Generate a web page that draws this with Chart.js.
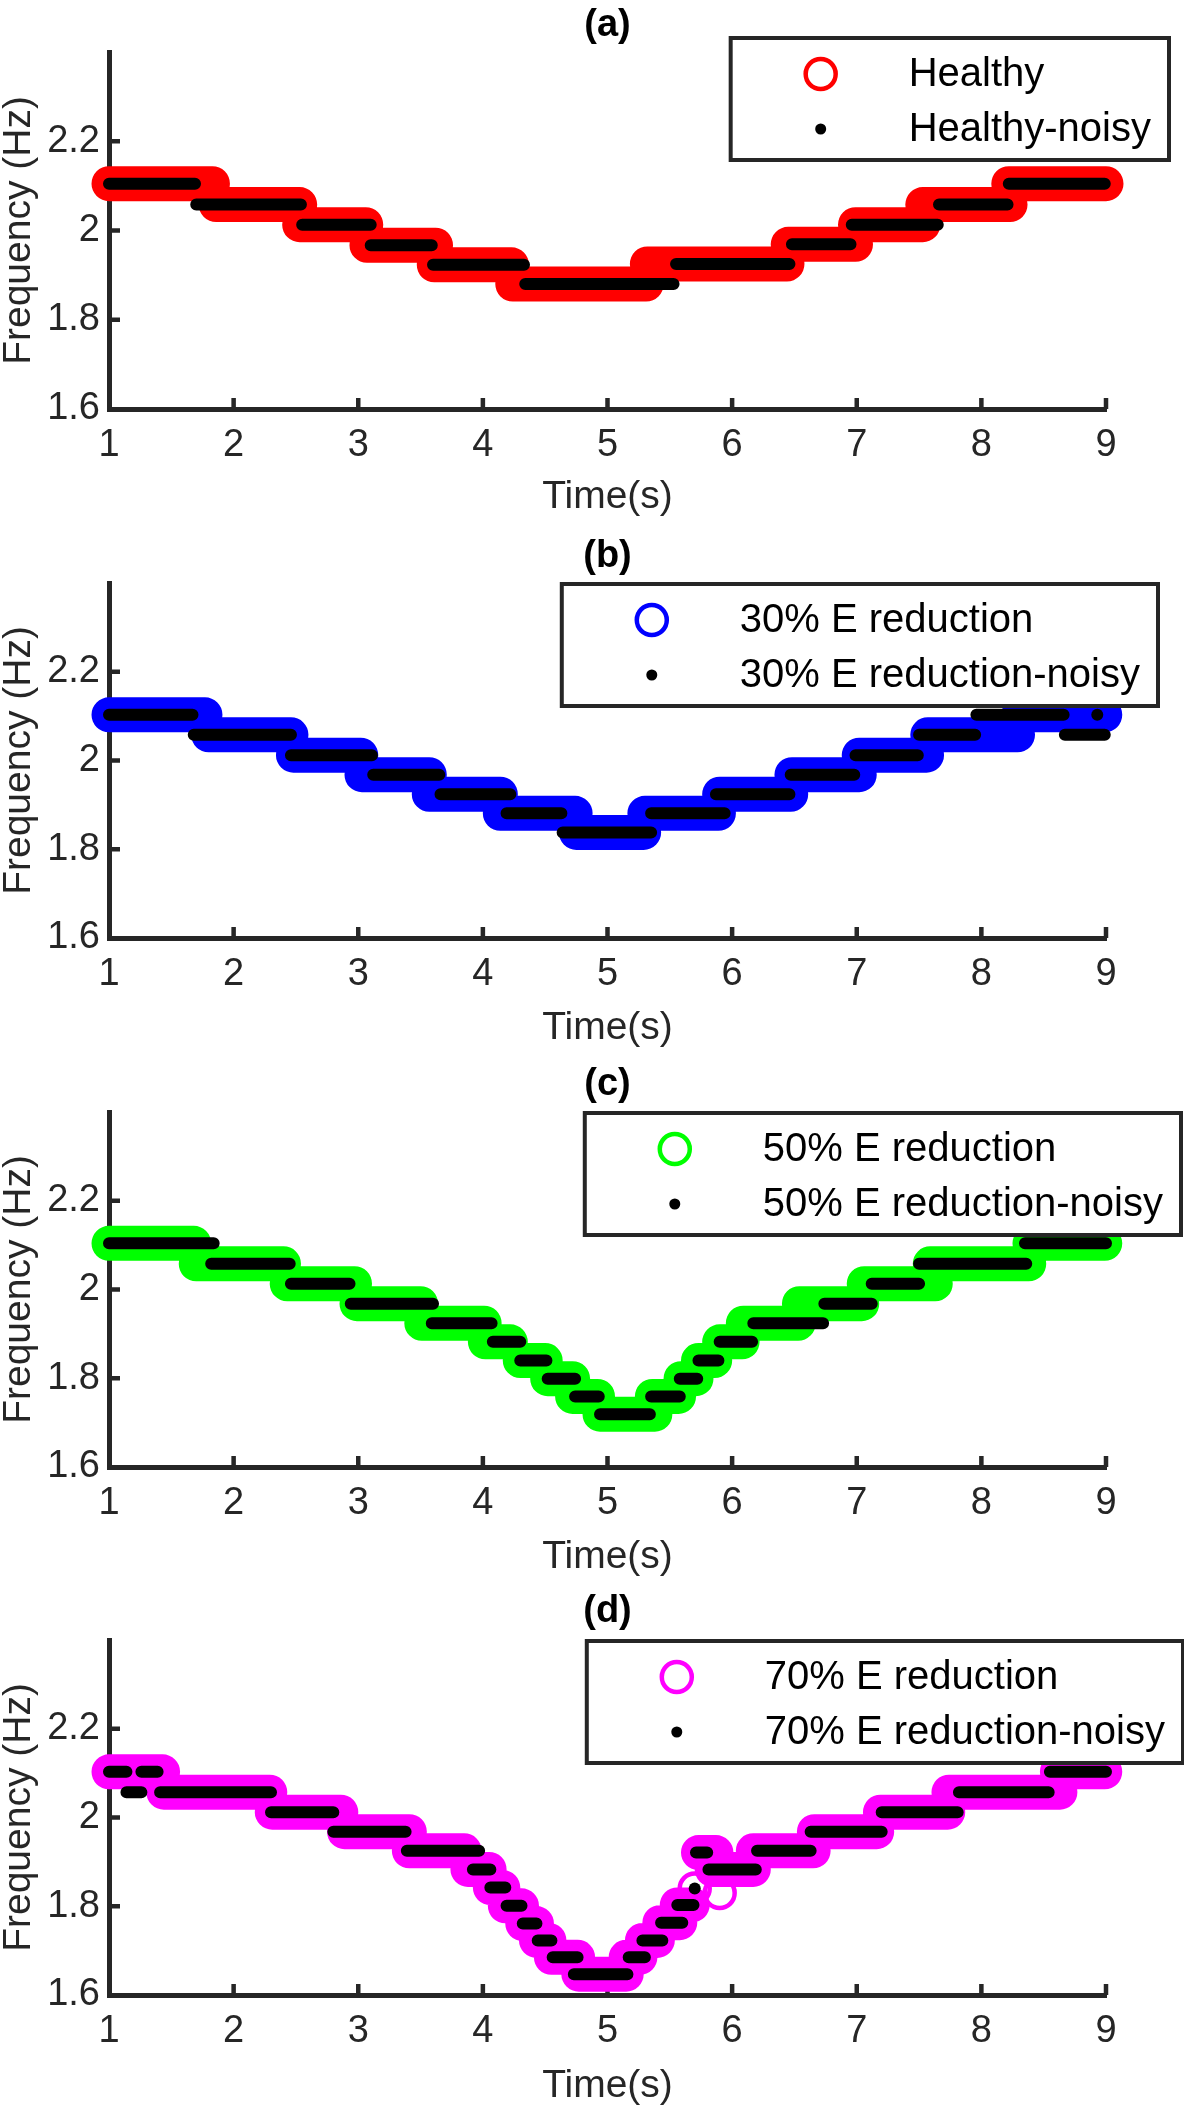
<!DOCTYPE html>
<html>
<head>
<meta charset="utf-8">
<script src="https://cdn.jsdelivr.net/npm/chart.js@4.4.0/dist/chart.umd.min.js"></script>
<style>
  html, body { margin: 0; padding: 0; background: #fff; }
  #wrap { position: relative; width: 1184px; height: 2108px; }
  .panel { position: absolute; left: 0; width: 1184px; height: 527px; }
  canvas { display: block; }
</style>
</head>
<body>
<div id="wrap">
  <div class="panel" style="top:0px"><canvas id="c0" width="1184" height="527"></canvas></div>
  <div class="panel" style="top:527px"><canvas id="c1" width="1184" height="527"></canvas></div>
  <div class="panel" style="top:1054px"><canvas id="c2" width="1184" height="527"></canvas></div>
  <div class="panel" style="top:1581px"><canvas id="c3" width="1184" height="527"></canvas></div>
</div>
<script>
// axis ticks
const timeTicks = [1, 2, 3, 4, 5, 6, 7, 8, 9];
const freqTicks = [1.6, 1.8, 2.0, 2.2];

// flat runs of each series: [start (s), end (s), frequency (Hz)]
const healthy = [
  [1.00, 1.83, 2.105], [1.86, 2.53, 2.058], [2.53, 3.06, 2.013], [3.07, 3.62, 1.967],
  [3.61, 4.23, 1.923], [4.24, 5.31, 1.880], [5.32, 6.44, 1.925], [6.45, 6.99, 1.969],
  [6.99, 7.53, 2.013], [7.53, 8.23, 2.058], [8.22, 9.00, 2.105]
];
const healthyNoisy = [
  [1.00, 1.69, 2.105], [1.70, 2.54, 2.058], [2.55, 3.10, 2.013], [3.10, 3.59, 1.967],
  [3.60, 4.33, 1.923], [4.34, 5.53, 1.880], [5.55, 6.46, 1.925], [6.48, 6.95, 1.969],
  [6.96, 7.65, 2.013], [7.66, 8.21, 2.058], [8.22, 8.99, 2.105]
];

const e30 = [
  [1.00, 1.77, 2.103], [1.80, 2.46, 2.058], [2.48, 3.02, 2.012], [3.03, 3.57, 1.968],
  [3.57, 4.14, 1.924], [4.14, 4.74, 1.881], [4.75, 5.29, 1.838], [5.30, 5.89, 1.881],
  [5.90, 6.47, 1.924], [6.48, 7.02, 1.968], [7.02, 7.56, 2.012], [7.57, 8.29, 2.058],
  [8.30, 8.99, 2.103]
];
const e30Noisy = [
  [1.00, 1.67, 2.103], [1.68, 2.46, 2.058], [2.46, 3.11, 2.012], [3.12, 3.65, 1.968],
  [3.66, 4.22, 1.924], [4.19, 4.63, 1.881], [4.64, 5.35, 1.838], [5.35, 5.94, 1.881],
  [5.87, 6.46, 1.924], [6.47, 6.98, 1.968], [6.99, 7.49, 2.012], [7.50, 7.95, 2.058],
  [7.96, 8.66, 2.103], [8.67, 8.99, 2.058]
];
const e30NoisyDots = [[8.93, 2.103]];

const e50 = [
  [1.00, 1.68, 2.104], [1.70, 2.40, 2.058], [2.43, 2.97, 2.013], [2.99, 3.50, 1.968],
  [3.51, 4.01, 1.924], [4.02, 4.22, 1.882], [4.30, 4.50, 1.840], [4.52, 4.72, 1.799],
  [4.72, 4.92, 1.759], [4.94, 5.38, 1.719], [5.36, 5.57, 1.759], [5.59, 5.71, 1.799],
  [5.73, 5.86, 1.840], [5.90, 6.08, 1.882], [6.09, 6.53, 1.924], [6.54, 7.04, 1.968],
  [7.06, 7.63, 2.013], [7.59, 8.38, 2.058], [8.39, 8.99, 2.104]
];
const e50Noisy = [
  [1.00, 1.84, 2.104], [1.82, 2.45, 2.058], [2.46, 2.93, 2.013], [2.94, 3.60, 1.968],
  [3.59, 4.07, 1.924], [4.08, 4.30, 1.882], [4.30, 4.51, 1.840], [4.52, 4.74, 1.799],
  [4.74, 4.93, 1.759], [4.94, 5.34, 1.719], [5.35, 5.58, 1.759], [5.58, 5.72, 1.799],
  [5.73, 5.89, 1.840], [5.90, 6.16, 1.882], [6.17, 6.73, 1.924], [6.74, 7.12, 1.968],
  [7.12, 7.50, 2.013], [7.50, 8.36, 2.058], [8.35, 9.00, 2.104]
];

const e70 = [
  [1.00, 1.43, 2.103], [1.44, 2.29, 2.057], [2.31, 2.86, 2.012], [2.89, 3.41, 1.968],
  [3.41, 3.85, 1.925], [3.88, 4.05, 1.883], [4.06, 4.16, 1.842], [4.18, 4.31, 1.801],
  [4.32, 4.43, 1.761], [4.43, 4.53, 1.723], [4.55, 4.76, 1.685], [4.77, 5.15, 1.647],
  [5.15, 5.26, 1.685], [5.28, 5.40, 1.723], [5.42, 5.58, 1.763], [5.56, 5.68, 1.803],
  [5.73, 5.87, 1.921], [5.84, 6.17, 1.883], [6.17, 6.65, 1.925], [6.66, 7.16, 1.968],
  [7.19, 7.73, 2.012], [7.74, 8.63, 2.057], [8.61, 8.99, 2.103]
];
const e70Rings = [[5.70, 1.840], [5.90, 1.830]];
const e70Noisy = [
  [1.00, 1.14, 2.103], [1.26, 1.39, 2.103], [1.14, 1.26, 2.057], [1.41, 2.30, 2.057],
  [2.30, 2.80, 2.012], [2.80, 3.38, 1.968], [3.39, 3.97, 1.925], [3.92, 4.06, 1.883],
  [4.06, 4.18, 1.842], [4.19, 4.31, 1.801], [4.32, 4.43, 1.761], [4.44, 4.55, 1.723],
  [4.56, 4.76, 1.685], [4.73, 5.16, 1.647], [5.17, 5.30, 1.685], [5.28, 5.44, 1.723],
  [5.43, 5.60, 1.763], [5.56, 5.69, 1.803], [5.71, 5.80, 1.921], [5.81, 6.19, 1.883],
  [6.20, 6.63, 1.925], [6.63, 7.20, 1.968], [7.20, 7.81, 2.012], [7.82, 8.54, 2.057],
  [8.55, 9.00, 2.103]
];
const e70NoisyDots = [[5.70, 1.840]];

const AXIS = '#262626';
Chart.defaults.font.family = '"Liberation Sans", Arial, Helvetica, sans-serif';

// each run becomes one stroked piece; a null point breaks the line
function runs(list) {
  const pts = [];
  list.forEach(([t0, t1, f]) => {
    pts.push({ x: t0, y: f }, { x: t1, y: f }, { x: t1, y: null });
  });
  return pts;
}
function dots(list) {
  return list.map(([t, f]) => ({ x: t, y: f }));
}

function bandSet(label, list, color) {
  return {
    label: label, data: runs(list), borderColor: color, borderWidth: 35,
    borderCapStyle: 'round', borderJoinStyle: 'round', pointRadius: 0,
    spanGaps: false, fill: false, clip: false, order: 3
  };
}
function noisySet(label, list) {
  return {
    label: label, data: runs(list), borderColor: '#000', borderWidth: 12,
    borderCapStyle: 'round', borderJoinStyle: 'round', pointRadius: 0,
    spanGaps: false, fill: false, clip: false, order: 1
  };
}

const deco = {
  id: 'deco',
  beforeDatasetsDraw(chart) {
    const { ctx, chartArea: a, scales: { x, y } } = chart;
    ctx.save();
    ctx.strokeStyle = AXIS;
    ctx.lineWidth = 4.5;
    ctx.beginPath();
    timeTicks.slice(1).forEach(v => {
      const px = x.getPixelForValue(v);
      ctx.moveTo(px, a.bottom);
      ctx.lineTo(px, a.bottom - 11);
    });
    freqTicks.slice(1).forEach(v => {
      const py = y.getPixelForValue(v);
      ctx.moveTo(a.left, py);
      ctx.lineTo(a.left + 11, py);
    });
    ctx.stroke();
    ctx.restore();
  },
  afterDraw(chart, args, o) {
    const { ctx, chartArea: a } = chart;
    const ds = chart.data.datasets;
    ctx.save();
    // panel letter
    ctx.fillStyle = '#000';
    ctx.font = 'bold 38px "Liberation Sans", Arial, sans-serif';
    ctx.textAlign = 'center';
    ctx.textBaseline = 'middle';
    ctx.fillText(o.title, (a.left + a.right) / 2, o.titleY);

    // legend box
    ctx.font = '40px "Liberation Sans", Arial, sans-serif';
    const tw = Math.max(ctx.measureText(ds[0].label).width, ctx.measureText(ds[1].label).width);
    const w = 178 + tw + 18, h = 122;
    const left = o.legendRight - w, top = o.legendTop;
    ctx.fillStyle = '#fff';
    ctx.fillRect(left, top, w, h);
    ctx.strokeStyle = AXIS;
    ctx.lineWidth = 4;
    ctx.strokeRect(left, top, w, h);
    const r1 = top + 36, r2 = top + 91;
    ctx.beginPath();
    ctx.arc(left + 90, r1, 15, 0, Math.PI * 2);
    ctx.strokeStyle = ds[0].borderColor;
    ctx.lineWidth = 4.5;
    ctx.stroke();
    ctx.beginPath();
    ctx.arc(left + 90, r2, 5.5, 0, Math.PI * 2);
    ctx.fillStyle = '#000';
    ctx.fill();
    ctx.textAlign = 'left';
    ctx.fillText(ds[0].label, left + 178, r1 + 1);
    ctx.fillText(ds[1].label, left + 178, r2 + 1);
    ctx.restore();
  }
};

function makePanel(id, datasets, p) {
  new Chart(document.getElementById(id), {
    type: 'line',
    data: { datasets: datasets },
    plugins: [deco],
    options: {
      responsive: false,
      animation: false,
      events: [],
      layout: { padding: { top: p.top, right: 78, bottom: 0, left: 0 } },
      plugins: {
        legend: { display: false },
        tooltip: { enabled: false },
        deco: p
      },
      scales: {
        x: {
          type: 'linear', min: 1, max: 9,
          afterFit: s => { s.height = 527 - p.bottom; },
          afterBuildTicks: s => { s.ticks = timeTicks.map(v => ({ value: v })); },
          grid: { display: false, drawTicks: false },
          border: { display: true, color: AXIS, width: 5 },
          ticks: { color: AXIS, padding: 18, maxRotation: 0, font: { size: 38, lineHeight: 1 } },
          title: { display: true, text: 'Time(s)', color: AXIS,
                   font: { size: 39, lineHeight: 1 }, padding: { top: 0, bottom: p.xPad } }
        },
        y: {
          type: 'linear', min: 1.6, max: 2.4,
          afterFit: s => { s.width = 109; },
          afterBuildTicks: s => { s.ticks = freqTicks.map(v => ({ value: v })); },
          grid: { display: false, drawTicks: false },
          border: { display: true, color: AXIS, width: 5 },
          ticks: { color: AXIS, padding: 9, font: { size: 38, lineHeight: 1 },
                   callback: v => String(+v.toFixed(1)) },
          title: { display: true, text: 'Frequency (Hz)', color: AXIS,
                   font: { size: 39, lineHeight: 1 }, padding: 0 }
        }
      }
    }
  });
}

makePanel('c0', [
  bandSet('Healthy', healthy, '#ff0000'),
  noisySet('Healthy-noisy', healthyNoisy)
], { title: '(a)', titleY: 26, top: 52, bottom: 409, xPad: 10, legendRight: 1169, legendTop: 38 });

makePanel('c1', [
  bandSet('30% E reduction', e30, '#0000ff'),
  noisySet('30% E reduction-noisy', e30Noisy),
  { type: 'scatter', data: dots(e30NoisyDots), pointRadius: 6, pointBorderWidth: 0,
    pointBackgroundColor: '#000', showLine: false, clip: false, order: 1 }
], { title: '(b)', titleY: 30, top: 56, bottom: 411, xPad: 6, legendRight: 1158, legendTop: 57 });

makePanel('c2', [
  bandSet('50% E reduction', e50, '#00ff00'),
  noisySet('50% E reduction-noisy', e50Noisy)
], { title: '(c)', titleY: 31, top: 58, bottom: 413, xPad: 4, legendRight: 1181, legendTop: 59 });

makePanel('c3', [
  bandSet('70% E reduction', e70, '#ff00ff'),
  noisySet('70% E reduction-noisy', e70Noisy),
  { type: 'scatter', data: dots(e70Rings), pointRadius: 15, pointBorderWidth: 4.5,
    pointBorderColor: '#ff00ff', pointBackgroundColor: 'rgba(0,0,0,0)', showLine: false, clip: false, order: 2 },
  { type: 'scatter', data: dots(e70NoisyDots), pointRadius: 6, pointBorderWidth: 0,
    pointBackgroundColor: '#000', showLine: false, clip: false, order: 1 }
], { title: '(d)', titleY: 31, top: 59, bottom: 414, xPad: 2, legendRight: 1183, legendTop: 60 });
</script>
</body>
</html>
